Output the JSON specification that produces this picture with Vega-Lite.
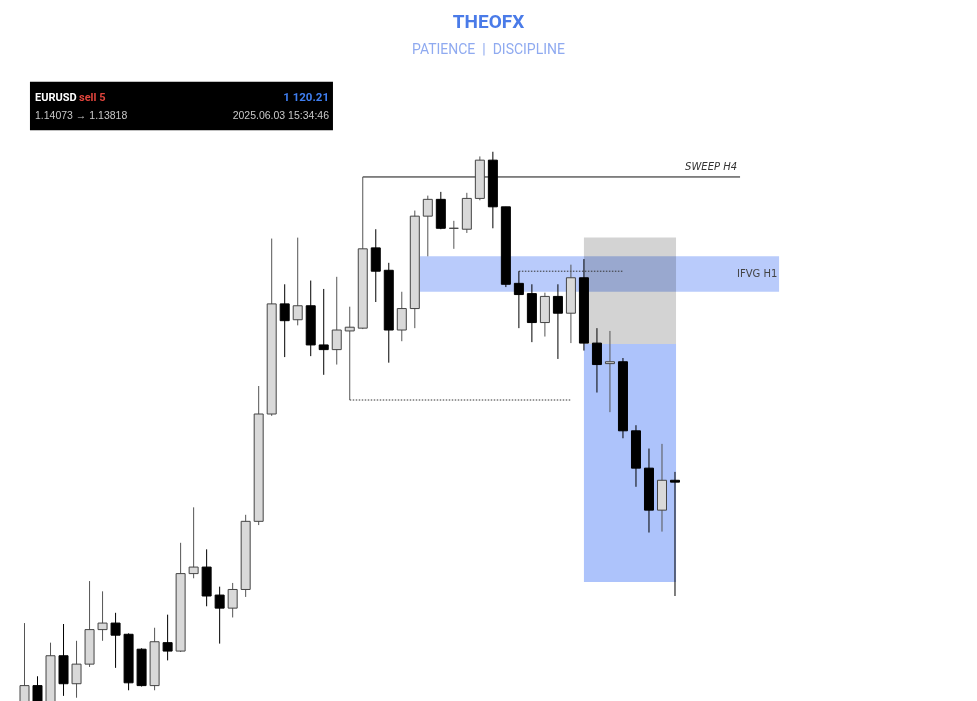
{
  "$schema": "https://vega.github.io/schema/vega-lite/v6.json",
  "width": 977,
  "height": 701,
  "autosize": {"type": "fit", "contains": "padding"},
  "padding": {"top": 13, "left": 0, "right": 0, "bottom": 0},
  "background": "white",
  "title": {
    "text": "THEOFX",
    "subtitle": "PATIENCE \u00a0|\u00a0 DISCIPLINE",
    "anchor": "middle",
    "frame": "group",
    "font": "Roboto",
    "fontSize": 19,
    "fontWeight": "bold",
    "color": "#4a7be8",
    "subtitleFont": "Roboto",
    "subtitleFontSize": 14,
    "subtitleFontWeight": "normal",
    "subtitleColor": "#8faaf0",
    "subtitlePadding": 11,
    "offset": 13
  },
  "config": {"view": {"stroke": null}},
  "datasets": {
    "candles": [
      {"i": 1, "open": 1.13681, "close": 1.13707, "high": 1.13774, "low": 1.13670},
      {"i": 2, "open": 1.13707, "close": 1.13681, "high": 1.13717, "low": 1.13670},
      {"i": 3, "open": 1.13679, "close": 1.13739, "high": 1.13753, "low": 1.13670},
      {"i": 4, "open": 1.13739, "close": 1.13709, "high": 1.13773, "low": 1.13696},
      {"i": 5, "open": 1.13709, "close": 1.13730, "high": 1.13755, "low": 1.13694},
      {"i": 6, "open": 1.13730, "close": 1.13767, "high": 1.13819, "low": 1.13727},
      {"i": 7, "open": 1.13767, "close": 1.13774, "high": 1.13808, "low": 1.13755},
      {"i": 8, "open": 1.13774, "close": 1.13761, "high": 1.13785, "low": 1.13726},
      {"i": 9, "open": 1.13762, "close": 1.13710, "high": 1.13763, "low": 1.13702},
      {"i": 10, "open": 1.13746, "close": 1.13707, "high": 1.13747, "low": 1.13706},
      {"i": 11, "open": 1.13707, "close": 1.13754, "high": 1.13769, "low": 1.13702},
      {"i": 12, "open": 1.13753, "close": 1.13744, "high": 1.13783, "low": 1.13734},
      {"i": 13, "open": 1.13744, "close": 1.13827, "high": 1.13860, "low": 1.13743},
      {"i": 14, "open": 1.13827, "close": 1.13834, "high": 1.13898, "low": 1.13822},
      {"i": 15, "open": 1.13834, "close": 1.13803, "high": 1.13853, "low": 1.13792},
      {"i": 16, "open": 1.13804, "close": 1.13790, "high": 1.13813, "low": 1.13752},
      {"i": 17, "open": 1.13790, "close": 1.13810, "high": 1.13817, "low": 1.13780},
      {"i": 18, "open": 1.13810, "close": 1.13883, "high": 1.13890, "low": 1.13802},
      {"i": 19, "open": 1.13883, "close": 1.13998, "high": 1.14028, "low": 1.13879},
      {"i": 20, "open": 1.13998, "close": 1.14116, "high": 1.14186, "low": 1.13996},
      {"i": 21, "open": 1.14116, "close": 1.14098, "high": 1.14137, "low": 1.14059},
      {"i": 22, "open": 1.14099, "close": 1.14114, "high": 1.14187, "low": 1.14093},
      {"i": 23, "open": 1.14114, "close": 1.14072, "high": 1.14141, "low": 1.14060},
      {"i": 24, "open": 1.14072, "close": 1.14067, "high": 1.14132, "low": 1.14040},
      {"i": 25, "open": 1.14067, "close": 1.14088, "high": 1.14145, "low": 1.14051},
      {"i": 26, "open": 1.14087, "close": 1.14091, "high": 1.14113, "low": 1.14013},
      {"i": 27, "open": 1.14090, "close": 1.14175, "high": 1.14252, "low": 1.14089},
      {"i": 28, "open": 1.14176, "close": 1.14151, "high": 1.14196, "low": 1.14118},
      {"i": 29, "open": 1.14152, "close": 1.14088, "high": 1.14160, "low": 1.14053},
      {"i": 30, "open": 1.14088, "close": 1.14111, "high": 1.14129, "low": 1.14076},
      {"i": 31, "open": 1.14111, "close": 1.14210, "high": 1.14216, "low": 1.14090},
      {"i": 32, "open": 1.14210, "close": 1.14228, "high": 1.14232, "low": 1.14167},
      {"i": 33, "open": 1.14228, "close": 1.14197, "high": 1.14236, "low": 1.14196},
      {"i": 34, "open": 1.14197, "close": 1.14197, "high": 1.14205, "low": 1.14175},
      {"i": 35, "open": 1.14196, "close": 1.14229, "high": 1.14235, "low": 1.14192},
      {"i": 36, "open": 1.14229, "close": 1.14270, "high": 1.14274, "low": 1.14227},
      {"i": 37, "open": 1.14270, "close": 1.14220, "high": 1.14279, "low": 1.14197},
      {"i": 38, "open": 1.14220, "close": 1.14137, "high": 1.14220, "low": 1.14134},
      {"i": 39, "open": 1.14138, "close": 1.14126, "high": 1.14151, "low": 1.14090},
      {"i": 40, "open": 1.14127, "close": 1.14096, "high": 1.14137, "low": 1.14075},
      {"i": 41, "open": 1.14096, "close": 1.14124, "high": 1.14128, "low": 1.14081},
      {"i": 42, "open": 1.14124, "close": 1.14106, "high": 1.14137, "low": 1.14057},
      {"i": 43, "open": 1.14106, "close": 1.14144, "high": 1.14158, "low": 1.14074},
      {"i": 44, "open": 1.14144, "close": 1.14074, "high": 1.14164, "low": 1.14066},
      {"i": 45, "open": 1.14074, "close": 1.14051, "high": 1.14090, "low": 1.14021},
      {"i": 46, "open": 1.14052, "close": 1.14054, "high": 1.14087, "low": 1.14000},
      {"i": 47, "open": 1.14054, "close": 1.13980, "high": 1.14058, "low": 1.13972},
      {"i": 48, "open": 1.13980, "close": 1.13940, "high": 1.13986, "low": 1.13920},
      {"i": 49, "open": 1.13940, "close": 1.13895, "high": 1.13961, "low": 1.13871},
      {"i": 50, "open": 1.13895, "close": 1.13927, "high": 1.13966, "low": 1.13872},
      {"i": 51, "open": 1.13927, "close": 1.13925, "high": 1.13936, "low": 1.13803}
    ],
    "zones": [
      {"zone": "IFVG H1", "start": 31.4, "end": 59.0, "top": 1.14167, "bottom": 1.14129},
      {"zone": "Stop", "start": 44, "end": 51.08, "top": 1.14187, "bottom": 1.14073},
      {"zone": "Target", "start": 44, "end": 51.08, "top": 1.14073, "bottom": 1.13818}
    ],
    "levels": [
      {"level": "SWEEP H4", "from": 27, "to": 56, "price": 1.14252},
      {"level": "Sweep low", "from": 26, "to": 43, "price": 1.14013},
      {"level": "H1 high", "from": 39, "to": 47, "price": 1.14151}
    ]
  },
  "layer": [
    {
      "data": {"name": "zones"},
      "transform": [{"filter": "datum.zone == 'IFVG H1'"}],
      "mark": {"type": "rect", "color": "#b9cbfb"},
      "encoding": {
        "x": {"field": "start", "type": "quantitative", "scale": {"domain": [-0.8832, 74.213], "nice": false, "zero": false, "padding": 0}, "axis": null},
        "x2": {"field": "end"},
        "y": {"field": "top", "type": "quantitative", "scale": {"domain": [1.136905, 1.143666], "nice": false, "zero": false, "padding": 0}, "axis": null},
        "y2": {"field": "bottom"}
      }
    },
    {
      "data": {"name": "zones"},
      "transform": [{"filter": "datum.zone != 'IFVG H1'"}],
      "mark": {"type": "rect", "blend": "multiply"},
      "encoding": {
        "x": {"field": "start", "type": "quantitative", "axis": null},
        "x2": {"field": "end"},
        "y": {"field": "top", "type": "quantitative", "axis": null},
        "y2": {"field": "bottom"},
        "color": {"field": "zone", "type": "nominal", "scale": {"domain": ["Stop", "Target"], "range": ["#d3d3d3", "#adc3fb"]}, "legend": null}
      }
    },
    {
      "data": {"name": "levels"},
      "transform": [{"filter": "datum.level == 'SWEEP H4'"}],
      "mark": {"type": "rule", "color": "#111111", "strokeWidth": 1},
      "encoding": {
        "x": {"field": "from", "type": "quantitative", "axis": null},
        "x2": {"field": "to"},
        "y": {"field": "price", "type": "quantitative", "axis": null}
      }
    },
    {
      "data": {"name": "levels"},
      "transform": [{"filter": "datum.level != 'SWEEP H4'"}],
      "mark": {"type": "rule", "color": "#333333", "strokeWidth": 1, "strokeDash": [1.5, 1.5]},
      "encoding": {
        "x": {"field": "from", "type": "quantitative", "axis": null},
        "x2": {"field": "to"},
        "y": {"field": "price", "type": "quantitative", "axis": null}
      }
    },
    {
      "data": {"name": "candles"},
      "mark": {"type": "rule", "strokeWidth": 1, "clip": true},
      "encoding": {
        "x": {"field": "i", "type": "quantitative", "axis": null},
        "y": {"field": "low", "type": "quantitative", "axis": null},
        "y2": {"field": "high"},
        "color": {"condition": {"test": "datum.close >= datum.open", "value": "#555555"}, "value": "#000000"}
      }
    },
    {
      "data": {"name": "candles"},
      "mark": {"type": "bar", "size": 9, "strokeWidth": 1, "clip": true},
      "encoding": {
        "x": {"field": "i", "type": "quantitative", "axis": null},
        "y": {"field": "open", "type": "quantitative", "axis": null},
        "y2": {"field": "close"},
        "fill": {"condition": {"test": "datum.close >= datum.open", "value": "#d9d9d9"}, "value": "#000000"},
        "stroke": {"condition": {"test": "datum.close >= datum.open", "value": "#444444"}, "value": "#000000"}
      }
    },
    {
      "data": {"values": [{}]},
      "mark": {"type": "text", "align": "right", "baseline": "middle", "font": "DejaVu Sans", "fontSize": 10, "fontStyle": "italic", "color": "#333333"},
      "encoding": {
        "x": {"datum": 55.77, "type": "quantitative"},
        "y": {"datum": 1.14263, "type": "quantitative"},
        "text": {"value": "SWEEP H4"}
      }
    },
    {
      "data": {"values": [{}]},
      "mark": {"type": "text", "align": "left", "baseline": "middle", "font": "DejaVu Sans", "fontSize": 10, "color": "#444444"},
      "encoding": {
        "x": {"datum": 55.77, "type": "quantitative"},
        "y": {"datum": 1.14148, "type": "quantitative"},
        "text": {"value": "IFVG H1"}
      }
    },
    {
      "data": {"values": [{}]},
      "mark": {"type": "rect", "color": "#000000"},
      "encoding": {
        "x": {"datum": 1.42, "type": "quantitative"},
        "x2": {"datum": 24.71},
        "y": {"datum": 1.14354, "type": "quantitative"},
        "y2": {"datum": 1.14302}
      }
    },
    {
      "data": {"values": [{}]},
      "mark": {"type": "text", "align": "left", "baseline": "middle", "font": "Roboto", "fontSize": 11, "fontWeight": "bold", "color": "#ffffff"},
      "encoding": {
        "x": {"datum": 1.807, "type": "quantitative"},
        "y": {"datum": 1.14337, "type": "quantitative"},
        "text": {"value": "EURUSD"}
      }
    },
    {
      "data": {"values": [{}]},
      "mark": {"type": "text", "align": "left", "baseline": "middle", "font": "Roboto", "fontSize": 11, "fontWeight": "bold", "color": "#e0443c"},
      "encoding": {
        "x": {"datum": 5.19, "type": "quantitative"},
        "y": {"datum": 1.14337, "type": "quantitative"},
        "text": {"value": "sell 5"}
      }
    },
    {
      "data": {"values": [{}]},
      "mark": {"type": "text", "align": "right", "baseline": "middle", "font": "Roboto", "fontSize": 11.5, "fontWeight": "bold", "color": "#3f7ef0"},
      "encoding": {
        "x": {"datum": 24.405, "type": "quantitative"},
        "y": {"datum": 1.14337, "type": "quantitative"},
        "text": {"value": "1 120.21"}
      }
    },
    {
      "data": {"values": [{}]},
      "mark": {"type": "text", "align": "left", "baseline": "middle", "font": "Liberation Sans", "fontSize": 10.5, "color": "#c8c8c8"},
      "encoding": {
        "x": {"datum": 1.807, "type": "quantitative"},
        "y": {"datum": 1.14317, "type": "quantitative"},
        "text": {"value": "1.14073 → 1.13818"}
      }
    },
    {
      "data": {"values": [{}]},
      "mark": {"type": "text", "align": "right", "baseline": "middle", "font": "Liberation Sans", "fontSize": 10.5, "color": "#c8c8c8"},
      "encoding": {
        "x": {"datum": 24.405, "type": "quantitative"},
        "y": {"datum": 1.14317, "type": "quantitative"},
        "text": {"value": "2025.06.03 15:34:46"}
      }
    }
  ]
}
